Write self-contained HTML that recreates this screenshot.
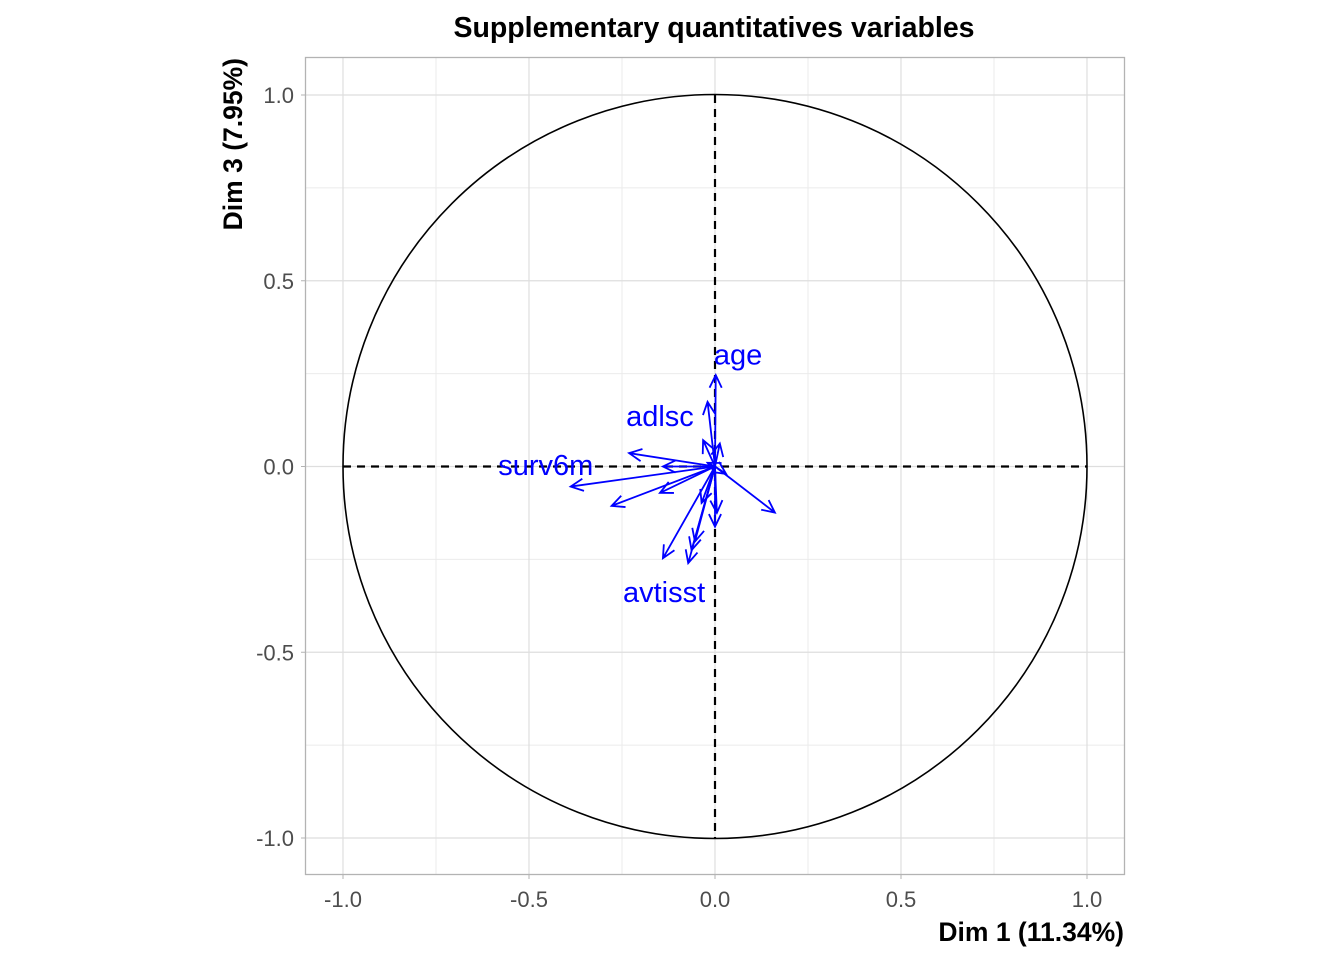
<!DOCTYPE html>
<html><head><meta charset="utf-8"><style>body{margin:0;background:#fff}svg{display:block;font-family:"Liberation Sans",Arial,sans-serif}</style></head>
<body>
<svg id="chart" width="1344" height="960" viewBox="0 0 1344 960">
<text x="714" y="37" text-anchor="middle" font-size="28.5" font-weight="bold">Supplementary quantitatives variables</text>
<g id="grid"></g>
<g id="marks"></g>
<text x="1124" y="941" text-anchor="end" font-size="26.5" font-weight="bold">Dim 1 (11.34%)</text>
<text transform="translate(242,58) rotate(-90)" text-anchor="end" font-size="26.5" font-weight="bold">Dim 3 (7.95%)</text>
</svg>
<script>
const varNames=["age","adlsc","v3","surv6m","v5","v6","v7","v8","avtisst","v10","v11","v12","v13","v14","v15","v16","v17","v18","v19"];
const dim1=[0.002,-0.02,-0.231,-0.388,-0.278,-0.148,-0.14,0.161,-0.14,-0.072,-0.063,-0.054,0,0.005,-0.036,0.013,-0.032,0.03,-0.02];
const dim3=[0.246,0.174,0.036,-0.054,-0.106,-0.071,0,-0.124,-0.247,-0.26,-0.225,-0.202,-0.162,-0.125,-0.098,0.062,0.071,-0.02,0.01];
const labelNames=["age","adlsc","surv6m","avtisst"];
const labelX=[0.062,-0.148,-0.455,-0.137];
const labelY=[0.302,0.136,0.004,-0.338];
const ticks=[-1,-0.5,0,0.5,1];
const tickLabels=["-1.0","-0.5","0.0","0.5","1.0"];
const minor=[-0.75,-0.25,0.25,0.75];
const NS="http://www.w3.org/2000/svg";
const X=v=>715+v*372, Y=v=>466.5-v*371.5;
const L=306,R=1124,T=58,B=874;
function mk(t,a,p){const e=document.createElementNS(NS,t);for(const k in a)e.setAttribute(k,a[k]);p.appendChild(e);return e;}
const g=document.getElementById('grid'),m=document.getElementById('marks');
minor.forEach(v=>{
 const a=mk('line',{x1:X(v),x2:X(v),y1:T,y2:B,stroke:'#ebebeb','stroke-width':1},g);
 
 const b=mk('line',{x1:L,x2:R,y1:Y(v),y2:Y(v),stroke:'#ebebeb','stroke-width':1},g);
 
});
ticks.forEach((v,i)=>{
 const a=mk('line',{x1:X(v),x2:X(v),y1:T,y2:B,stroke:'#dedede','stroke-width':1.2},g);
 
 const b=mk('line',{x1:L,x2:R,y1:Y(v),y2:Y(v),stroke:'#dedede','stroke-width':1.2},g);
 
 mk('line',{x1:X(v),x2:X(v),y1:B,y2:B+5,stroke:'#b3b3b3'},g);
 mk('line',{x1:L-5,x2:L,y1:Y(v),y2:Y(v),stroke:'#b3b3b3'},g);
 const tx=mk('text',{x:X(v),y:907,'text-anchor':'middle','font-size':22,fill:'#4d4d4d'},g);tx.textContent=tickLabels[i];
 
 const ty=mk('text',{x:L-12,y:Y(v)+8,'text-anchor':'end','font-size':22,fill:'#4d4d4d'},g);ty.textContent=tickLabels[i];
 
});
const fr=mk('rect',{x:L-0.5,y:T-0.5,width:R-L+1,height:B-T+1,fill:'none',stroke:'#b3b3b3','stroke-width':1.3},g);

const c=mk('circle',{cx:X(0),cy:Y(0),r:372,fill:'none',stroke:'#000','stroke-width':1.6},m);

const h=mk('line',{x1:X(-1),x2:X(1),y1:Y(0),y2:Y(0),stroke:'#000','stroke-width':2.2,'stroke-dasharray':'8,6'},m);

const vv=mk('line',{x1:X(0),x2:X(0),y1:Y(1),y2:Y(-1),stroke:'#000','stroke-width':2.2,'stroke-dasharray':'8,6'},m);

dim1.forEach((d,i)=>{
 const x2=X(d),y2=Y(dim3[i]),x1=X(0),y1=Y(0);
 const ang=Math.atan2(y2-y1,x2-x1),hl=14,ha=0.45;
 const p=`M${x1},${y1}L${x2},${y2}M${x2-hl*Math.cos(ang-ha)},${y2-hl*Math.sin(ang-ha)}L${x2},${y2}L${x2-hl*Math.cos(ang+ha)},${y2-hl*Math.sin(ang+ha)}`;
 const a=mk('path',{d:p,stroke:'#0000ff','stroke-width':1.8,fill:'none'},m);
 
});
labelNames.forEach((n,i)=>{
 const t=mk('text',{x:X(labelX[i]),y:Y(labelY[i])+10,'text-anchor':'middle','font-size':29,fill:'#0000ff'},m);t.textContent=n;
 
});
</script>
</body></html>
